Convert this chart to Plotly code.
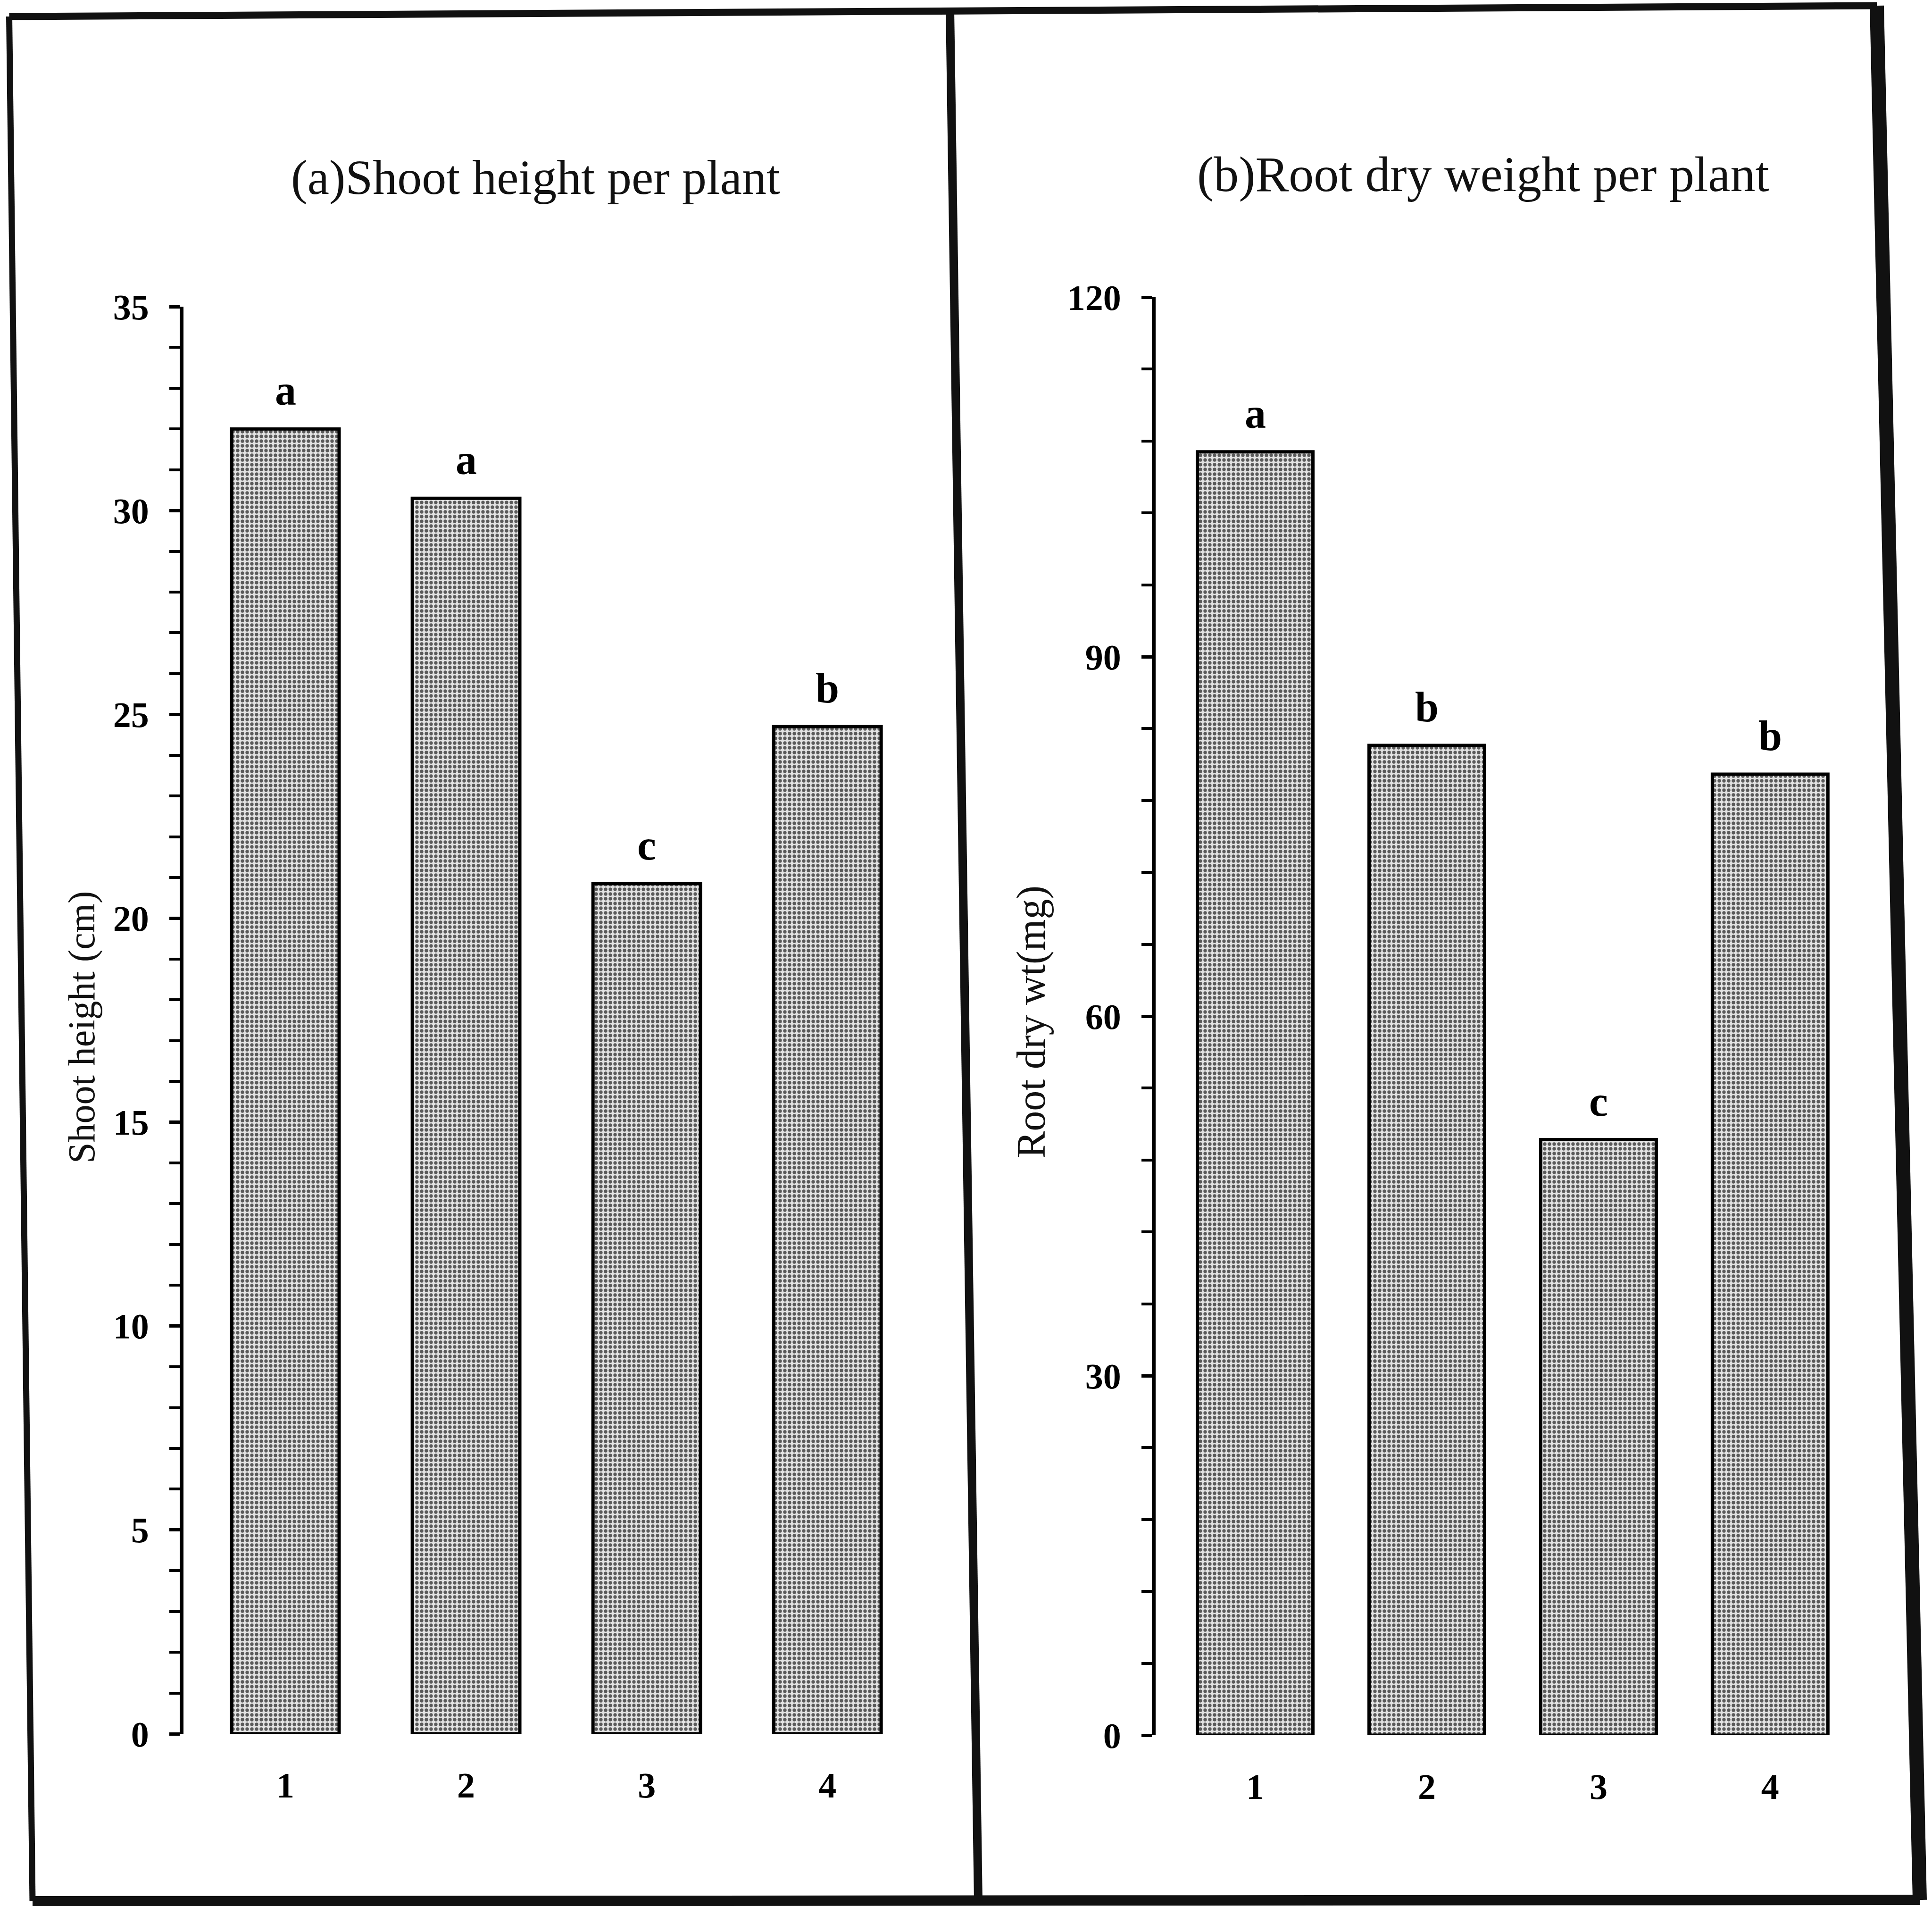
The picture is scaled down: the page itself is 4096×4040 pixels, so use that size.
import plotly.graph_objects as go

# ---------------- data ----------------
categories = [1, 2, 3, 4]
category_labels = ["1", "2", "3", "4"]
shoot_height = [32.0, 30.3, 20.85, 24.7]
root_dry_wt = [107.1, 82.6, 49.7, 80.2]
shoot_letters = ["a", "a", "c", "b"]
root_letters = ["a", "b", "c", "b"]
shoot_ticks = [0, 5, 10, 15, 20, 25, 30, 35]
root_ticks = [0, 30, 60, 90, 120]
title_a = "(a)Shoot height per plant"
title_b = "(b)Root dry weight per plant"
ylabel_a = "Shoot height (cm)"
ylabel_b = "Root dry wt(mg)"

W, H = 4096, 4040
SERIF = "Liberation Serif"


def px(x):
    return x / W


def py(y):
    return 1 - y / H


pattern = dict(shape=".", fgcolor="#5a5a5a", bgcolor="#e2e2e2", size=10, solidity=0.42)

fig = go.Figure()
fig.add_trace(go.Bar(
    x=categories, y=shoot_height, width=0.595,
    marker=dict(color="#e2e2e2", line=dict(color="black", width=7), pattern=pattern),
    xaxis="x", yaxis="y", showlegend=False, hoverinfo="skip",
))
fig.add_trace(go.Bar(
    x=categories, y=root_dry_wt, width=0.673,
    marker=dict(color="#e2e2e2", line=dict(color="black", width=7), pattern=pattern),
    xaxis="x2", yaxis="y2", showlegend=False, hoverinfo="skip",
))

tickfont = dict(family=SERIF, size=76, color="black", weight="bold")

common_x = dict(showline=False, showgrid=False, zeroline=False, ticks="",
                tickvals=categories, ticktext=category_labels, automargin=False,
                tickfont=tickfont, ticklabelstandoff=58, fixedrange=True)
common_y = dict(showline=True, linewidth=8, linecolor="black", showgrid=False,
                zeroline=False, ticks="outside", ticklen=22, tickwidth=7,
                tickcolor="black", tickfont=tickfont, ticklabelstandoff=28,
                automargin=False, fixedrange=True)

fig.update_layout(
    template="none",
    width=W, height=H,
    margin=dict(l=0, r=0, t=0, b=0, pad=0, autoexpand=False),
    paper_bgcolor="white", plot_bgcolor="rgba(0,0,0,0)",
    xaxis=dict(domain=[px(389), px(1984)], range=[0.436, 4.6], anchor="y", **common_x),
    yaxis=dict(domain=[py(3675), py(650)], range=[0, 35], anchor="x",
               tickvals=shoot_ticks,
               minor=dict(tick0=0, dtick=1, ticks="outside", ticklen=22, tickwidth=6, tickcolor="black"),
               **common_y),
    xaxis2=dict(domain=[px(2450), px(3953)], range=[0.42, 4.55], anchor="y2", **common_x),
    yaxis2=dict(domain=[py(3678), py(630)], range=[0, 120], anchor="x2",
                tickvals=root_ticks,
                minor=dict(tick0=0, dtick=6, ticks="outside", ticklen=22, tickwidth=6, tickcolor="black"),
                **common_y),
)

annotations = []
letter_font = dict(family=SERIF, size=90, color="black", weight="bold")
for c, v, t in zip(categories, shoot_height, shoot_letters):
    annotations.append(dict(x=c, y=v, xref="x", yref="y", text=t, showarrow=False,
                            yanchor="bottom", yshift=30, font=letter_font))
for c, v, t in zip(categories, root_dry_wt, root_letters):
    annotations.append(dict(x=c, y=v, xref="x2", yref="y2", text=t, showarrow=False,
                            yanchor="bottom", yshift=30, font=letter_font))

annotations.append(dict(x=px(1135), y=py(376), xref="paper", yref="paper", text=title_a,
                        showarrow=False, xanchor="center", yanchor="middle",
                        font=dict(family=SERIF, size=104, color="#111111")))
annotations.append(dict(x=px(3144), y=py(370), xref="paper", yref="paper", text=title_b,
                        showarrow=False, xanchor="center", yanchor="middle",
                        font=dict(family=SERIF, size=106, color="#111111")))
annotations.append(dict(x=px(173), y=py(2177), xref="paper", yref="paper", text=ylabel_a,
                        textangle=-90, showarrow=False, xanchor="center", yanchor="middle",
                        font=dict(family=SERIF, size=80, color="#111111")))
annotations.append(dict(x=px(2186), y=py(2166), xref="paper", yref="paper", text=ylabel_b,
                        textangle=-90, showarrow=False, xanchor="center", yanchor="middle",
                        font=dict(family=SERIF, size=86, color="#111111")))
fig.update_layout(annotations=annotations)

# frame lines (scanned page border, slightly skewed)
frame = [
    ((19.5, 35), (3979, 12), 15),      # top
    ((19.5, 35), (69, 4030), 13),      # left
    ((3979, 12), (4070, 4027), 30),    # right
    ((69, 4030), (4070, 4027), 22),    # bottom
    ((2014, 22), (2074, 4029), 18),    # divider
]
shapes = []
for (x0, y0), (x1, y1), w in frame:
    shapes.append(dict(type="line", xref="paper", yref="paper",
                       x0=px(x0), y0=py(y0), x1=px(x1), y1=py(y1),
                       line=dict(color="#111111", width=w)))
fig.update_layout(shapes=shapes)

fig.write_html("out.html")
